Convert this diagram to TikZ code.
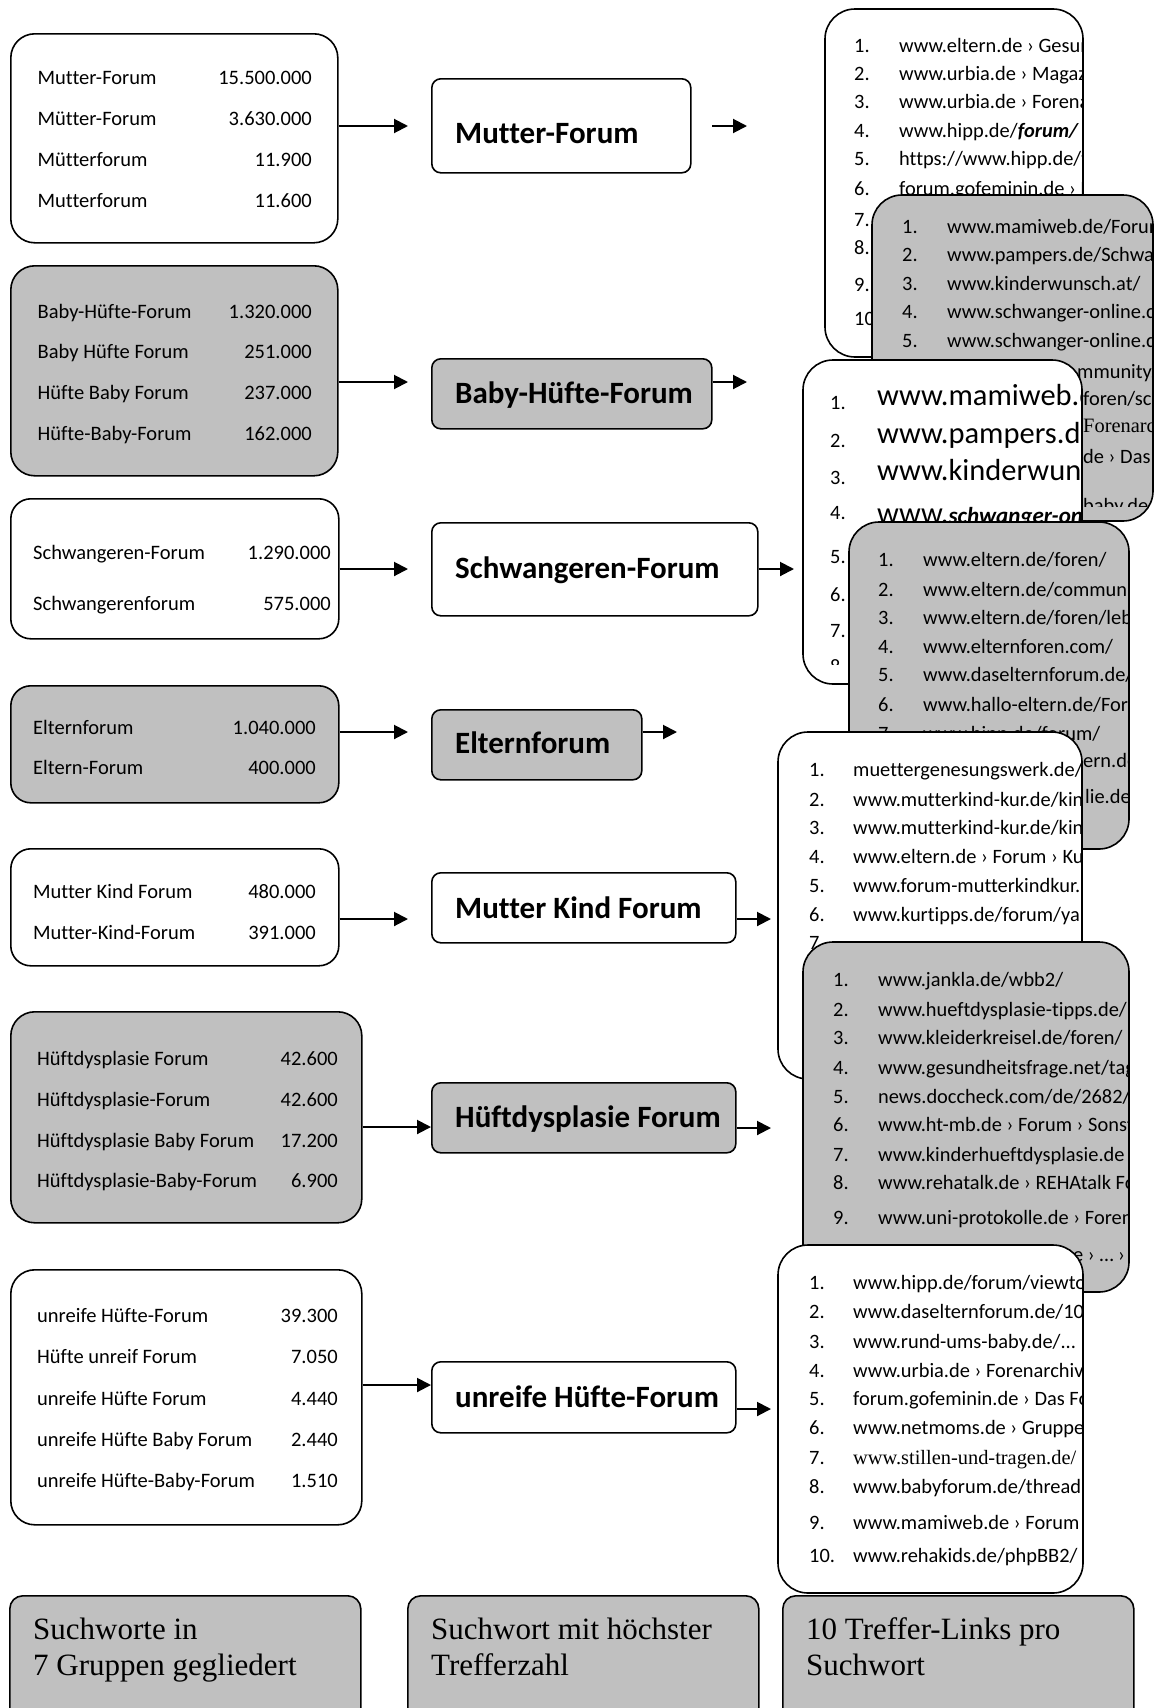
\documentclass[tikz,border=0pt]{standalone}
\usepackage{fontspec}
\setmainfont{Carlito}[Ligatures=NoCommon]
\newfontfamily\timesfont{Liberation Serif}
\usetikzlibrary{arrows.meta}
\definecolor{boxgray}{RGB}{192,192,192}
% row of a result card: name, numx, textx, baseline, number, text
\newcommand\crow[6]{\node[rowtxt] (#1n) at (#2,#4) {#5};\node[rowtxt] (#1t) at (#3,#4) {#6};}
% row of a keyword box: name, namex, numx, baseline, keyword, count
\newcommand\lrow[6]{\node[lefttxt] (#1a) at (#2,#4) {#5};\node[leftnum] (#1b) at (#3,#4) {#6};}
% card: x1 y1 x2 y2 fill content
\newcommand\drawcard[6]{%
  \fill[#5, rounded corners=30pt] (#1,#2) rectangle (#3,#4);
  \begin{scope}
    \clip[rounded corners=30pt] (#1,#2) rectangle (#3,#4);
    #6
  \end{scope}
  \draw[line width=1.6pt, rounded corners=30pt] (#1,#2) rectangle (#3,#4);
}
\begin{document}
\begin{tikzpicture}[x=1pt,y=-1pt,
  lbox/.style={draw, line width=1.6pt, rounded corners=24pt, inner sep=0pt, anchor=north west},
  mbox/.style={draw, line width=1.6pt, rounded corners=9pt, inner sep=0pt, anchor=north west},
  labbox/.style={draw, line width=1.6pt, rounded corners=13pt, inner sep=0pt, anchor=north west, fill=boxgray},
  lefttxt/.style={font=\fontsize{20.5}{24}\selectfont, inner sep=0pt, anchor=base west},
  leftnum/.style={lefttxt, anchor=base east},
  midtxt/.style={font=\fontsize{31}{36}\selectfont\bfseries, inner sep=0pt, anchor=base west},
  rowtxt/.style={font=\fontsize{20.4}{24}\selectfont, inner sep=0pt, anchor=base west},
  bigtxt/.style={font=\fontsize{30.5}{36}\selectfont, inner sep=0pt, anchor=base west},
  labtxt/.style={font=\timesfont\fontsize{31}{36}\selectfont, inner sep=0pt, anchor=base west},
  arr/.style={line width=2pt, -{Triangle[length=14pt,width=14pt]}}
]
\useasboundingbox (0,0) rectangle (1155,1708);
\clip (0,0) rectangle (1155,1708);

% ---------- keyword boxes ----------
\node[lbox, fill=white,   minimum width=327, minimum height=209] (B1) at (10,33) {};
\node[lbox, fill=boxgray, minimum width=327, minimum height=210] (B2) at (10,265) {};
\node[lbox, fill=white,   minimum width=328, minimum height=140, rounded corners=20pt] (B3) at (10,498) {};
\node[lbox, fill=boxgray, minimum width=328, minimum height=117, rounded corners=20pt] (B4) at (10,685) {};
\node[lbox, fill=white,   minimum width=328, minimum height=117, rounded corners=20pt] (B5) at (10,848) {};
\node[lbox, fill=boxgray, minimum width=351, minimum height=211] (B6) at (10,1011) {};
\node[lbox, fill=white,   minimum width=351, minimum height=255] (B7) at (10,1269) {};

\lrow{b1r1}{37.5}{312}{84.5}{Mutter-Forum}{15.500.000}
\lrow{b1r2}{37.5}{312}{125.5}{Mütter-Forum}{3.630.000}
\lrow{b1r3}{37.5}{312}{166.5}{Mütterforum}{11.900}
\lrow{b1r4}{37.5}{312}{207.5}{Mutterforum}{11.600}

\lrow{b2r1}{37.5}{312}{318.5}{Baby-Hüfte-Forum}{1.320.000}
\lrow{b2r2}{37.5}{312}{358.5}{Baby Hüfte Forum}{251.000}
\lrow{b2r3}{37.5}{312}{399.5}{Hüfte Baby Forum}{237.000}
\lrow{b2r4}{37.5}{312}{440.5}{Hüfte-Baby-Forum}{162.000}

\lrow{b3r1}{33}{331}{559.5}{Schwangeren-Forum}{1.290.000}
\lrow{b3r2}{33}{331}{610.5}{Schwangerenforum}{575.000}

\lrow{b4r1}{33}{316}{734.5}{Elternforum}{1.040.000}
\lrow{b4r2}{33}{316}{774.5}{Eltern-Forum}{400.000}

\lrow{b5r1}{33}{316}{898.5}{Mutter Kind Forum}{480.000}
\lrow{b5r2}{33}{316}{939.5}{Mutter-Kind-Forum}{391.000}

\lrow{b6r1}{37}{338}{1065.5}{Hüftdysplasie Forum}{42.600}
\lrow{b6r2}{37}{338}{1106.5}{Hüftdysplasie-Forum}{42.600}
\lrow{b6r3}{37}{338}{1147.5}{Hüftdysplasie Baby Forum}{17.200}
\lrow{b6r4}{37}{338}{1187.5}{Hüftdysplasie-Baby-Forum}{6.900}

\lrow{b7r1}{37}{338}{1322.5}{unreife Hüfte-Forum}{39.300}
\lrow{b7r2}{37}{338}{1363.5}{Hüfte unreif Forum}{7.050}
\lrow{b7r3}{37}{338}{1405.5}{unreife Hüfte Forum}{4.440}
\lrow{b7r4}{37}{338}{1446.5}{unreife Hüfte Baby Forum}{2.440}
\lrow{b7r5}{37}{338}{1487.5}{unreife Hüfte-Baby-Forum}{1.510}

% ---------- top keyword boxes ----------
\node[mbox, fill=white,   minimum width=259, minimum height=94] (M1) at (431,78) {};
\node[mbox, fill=boxgray, minimum width=280, minimum height=70] (M2) at (431,358) {};
\node[mbox, fill=white,   minimum width=326, minimum height=93] (M3) at (431,522) {};
\node[mbox, fill=boxgray, minimum width=210, minimum height=70] (M4) at (431,709) {};
\node[mbox, fill=white,   minimum width=304, minimum height=70] (M5) at (431,872) {};
\node[mbox, fill=boxgray, minimum width=304, minimum height=70] (M6) at (431,1082) {};
\node[mbox, fill=white,   minimum width=304, minimum height=71] (M7) at (431,1361) {};

\node[midtxt] (M1t) at (455,143) {Mutter-Forum};
\node[midtxt] (M2t) at (455,403) {Baby-Hüfte-Forum};
\node[midtxt] (M3t) at (455,578) {Schwangeren-Forum};
\node[midtxt] (M4t) at (455,753) {Elternforum};
\node[midtxt] (M5t) at (455,918) {Mutter Kind Forum};
\node[midtxt] (M6t) at (455,1127) {Hüftdysplasie Forum};
\node[midtxt] (M7t) at (455,1407) {unreife Hüfte-Forum};

% ---------- arrows ----------
\coordinate (a1) at (408,126);
\coordinate (a2) at (408,382);
\coordinate (a3) at (408,569);
\coordinate (a4) at (408,732);
\coordinate (a5) at (408,919);
\coordinate (a6) at (431,1127);
\coordinate (a7) at (431,1385);
\draw[arr] (B1.east |- a1) -- (a1);
\draw[arr] (B2.east |- a2) -- (a2);
\draw[arr] (B3.east |- a3) -- (a3);
\draw[arr] (B4.east |- a4) -- (a4);
\draw[arr] (B5.east |- a5) -- (a5);
\draw[arr] (B6.east |- a6) -- (M6.west |- a6);
\draw[arr] (B7.east |- a7) -- (M7.west |- a7);

\coordinate (r1s) at (712,126);  \coordinate (r1) at (747,126);
\coordinate (r2) at (747,382);
\coordinate (r3) at (794,569);
\coordinate (r4) at (677,732);
\coordinate (r5) at (771,919);
\coordinate (r6) at (771,1128);
\coordinate (r7) at (771,1409);
\draw[arr] (r1s) -- (r1);
\draw[arr] (M2.east |- r2) -- (r2);
\draw[arr] (M3.east |- r3) -- (r3);
\draw[arr] (M4.east |- r4) -- (r4);
\draw[arr] (M5.east |- r5) -- (r5);
\draw[arr] (M6.east |- r6) -- (r6);
\draw[arr] (M7.east |- r7) -- (r7);

% ---------- result cards ----------
\drawcard{825}{9}{1083}{357}{white}{
  \crow{c1r1}{854}{899}{52}{1.}{www.eltern.de › Gesundheit}
  \crow{c1r2}{854}{899}{80.5}{2.}{www.urbia.de › Magazin}
  \crow{c1r3}{854}{899}{108}{3.}{www.urbia.de › Forenarchiv}
  \crow{c1r4}{854}{899}{137}{4.}{www.hipp.de/\textbf{\textit{forum/}}}
  \crow{c1r5}{854}{899}{165.5}{5.}{https://www.hipp.de/forum}
  \crow{c1r6}{854}{899}{195}{6.}{forum.gofeminin.de › Das Forum}
  \node[rowtxt] (c1r7n) at (854,226) {7.};
  \node[rowtxt] (c1r8n) at (854,254.5) {8.};
  \node[rowtxt] (c1r9n) at (854,291) {9.};
  \node[rowtxt] (c1r10n) at (854,325.5) {10.};
}

\drawcard{872}{195}{1153}{521}{boxgray}{
  \crow{c2r1}{902}{947}{233}{1.}{www.mamiweb.de/Forum}
  \crow{c2r2}{902}{947}{261.5}{2.}{www.pampers.de/Schwangerschaft}
  \crow{c2r3}{902}{947}{290}{3.}{www.kinderwunsch.at/}
  \crow{c2r4}{902}{947}{318.5}{4.}{www.schwanger-online.de}
  \crow{c2r5}{902}{947}{347}{5.}{www.schwanger-online.de}
  \node[rowtxt] (c2r6) at (1077,378) {mmunity.de};
  \node[rowtxt] (c2r7) at (1083,405) {foren/schwanger};
  \node[rowtxt] (c2r8) at (1083,432) {\timesfont Forenarchiv};
  \node[rowtxt] (c2r9) at (1083,463) {de › Das Forum};
  \begin{scope}
    \clip (0,0) rectangle (2000,506);
    \node[rowtxt] (c2r10) at (1083,512) {baby.de};
  \end{scope}
}

\drawcard{803}{360}{1082}{684}{white}{
  \clip (0,0) rectangle (2000,664);
  \node[rowtxt] (c3r1n) at (830,409) {1.};
  \node[rowtxt] (c3r2n) at (830,447) {2.};
  \node[rowtxt] (c3r3n) at (830,484) {3.};
  \node[rowtxt] (c3r4n) at (830,519) {4.};
  \node[rowtxt] (c3r5n) at (830,563) {5.};
  \node[rowtxt] (c3r6n) at (830,601) {6.};
  \node[rowtxt] (c3r7n) at (830,637) {7.};
  \node[rowtxt] (c3r8n) at (830,673) {8.};
  \node[bigtxt] (c3r1t) at (877,405) {www.mamiweb.de/Forum};
  \node[bigtxt] (c3r2t) at (877,443) {www.pampers.de/Schwangerschaft};
  \node[bigtxt] (c3r3t) at (877,480) {www.kinderwunsch.at/};
  \node[bigtxt] (c3r4t) at (877,523) {www.{\fontsize{23}{28}\selectfont\bfseries\itshape schwanger-online}};
}

\drawcard{849}{522}{1129}{849}{boxgray}{
  \crow{c4r1}{878}{923}{566.5}{1.}{www.eltern.de/foren/}
  \crow{c4r2}{878}{923}{596.5}{2.}{www.eltern.de/community}
  \crow{c4r3}{878}{923}{624.5}{3.}{www.eltern.de/foren/leben}
  \crow{c4r4}{878}{923}{653.5}{4.}{www.elternforen.com/}
  \crow{c4r5}{878}{923}{681.5}{5.}{www.daselternforum.de/}
  \crow{c4r6}{878}{923}{711.5}{6.}{www.hallo-eltern.de/Forum}
  \crow{c4r7}{878}{923}{740}{7.}{www.hipp.de/forum/}
  \node[rowtxt] (c4r8) at (1083,767) {ern.de};
  \node[rowtxt] (c4r9) at (1085,803) {lie.de};
}

\drawcard{778}{732}{1082}{1079}{white}{
  \crow{c5r1}{809}{853}{776.5}{1.}{muettergenesungswerk.de/}
  \crow{c5r2}{809}{853}{806.5}{2.}{www.mutterkind-kur.de/kinder}
  \crow{c5r3}{809}{853}{834.5}{3.}{www.mutterkind-kur.de/kinder}
  \crow{c5r4}{809}{853}{863.5}{4.}{www.eltern.de › Forum › Kur}
  \crow{c5r5}{809}{853}{892.5}{5.}{www.forum-mutterkindkur.de}
  \crow{c5r6}{809}{853}{921.5}{6.}{www.kurtipps.de/forum/yabb}
  \node[rowtxt] (c5r7n) at (809,949.5) {7.};
}

\drawcard{803}{942}{1129}{1292}{boxgray}{
  \crow{c6r1}{833}{878}{986.5}{1.}{www.jankla.de/wbb2/}
  \crow{c6r2}{833}{878}{1016.5}{2.}{www.hueftdysplasie-tipps.de/}
  \crow{c6r3}{833}{878}{1044.5}{3.}{www.kleiderkreisel.de/foren/}
  \crow{c6r4}{833}{878}{1074.5}{4.}{www.gesundheitsfrage.net/tag}
  \crow{c6r5}{833}{878}{1103.5}{5.}{news.doccheck.com/de/2682/}
  \crow{c6r6}{833}{878}{1131.5}{6.}{www.ht-mb.de › Forum › Sonstiges}
  \crow{c6r7}{833}{878}{1161.5}{7.}{www.kinderhueftdysplasie.de}
  \crow{c6r8}{833}{878}{1189.5}{8.}{www.rehatalk.de › REHAtalk Forum}
  \crow{c6r9}{833}{878}{1224.5}{9.}{www.uni-protokolle.de › Foren}
  \node[rowtxt] (c6r10) at (1073,1261.5) {e › … › Forum};
}

\drawcard{778}{1245}{1083}{1593}{white}{
  \crow{c7r1}{809}{853}{1289.5}{1.}{www.hipp.de/forum/viewtopic}
  \crow{c7r2}{809}{853}{1318.5}{2.}{www.daselternforum.de/10}
  \crow{c7r3}{809}{853}{1348.5}{3.}{www.rund-ums-baby.de/...}
  \crow{c7r4}{809}{853}{1377.5}{4.}{www.urbia.de › Forenarchiv}
  \crow{c7r5}{809}{853}{1405.5}{5.}{forum.gofeminin.de › Das Forum}
  \crow{c7r6}{809}{853}{1434.5}{6.}{www.netmoms.de › Gruppen}
  \crow{c7r7}{809}{853}{1464.5}{7.}{{\timesfont www.stillen-und-tragen.de/}}
  \crow{c7r8}{809}{853}{1493.5}{8.}{www.babyforum.de/thread}
  \crow{c7r9}{809}{853}{1529.5}{9.}{www.mamiweb.de › Forum}
  \crow{c7r10}{809}{853}{1562.5}{10.}{www.rehakids.de/phpBB2/}
}

% ---------- legend boxes ----------
\node[labbox, minimum width=351, minimum height=135] (L1) at (9,1595) {};
\node[labbox, minimum width=351, minimum height=135] (L2) at (407,1595) {};
\node[labbox, minimum width=351, minimum height=135] (L3) at (782,1595) {};
\node[labtxt] (L1a) at (33,1639) {Suchworte in};
\node[labtxt] (L1b) at (33,1675) {7 Gruppen gegliedert};
\node[labtxt] (L2a) at (431,1639) {Suchwort mit höchster};
\node[labtxt] (L2b) at (431,1675) {Trefferzahl};
\node[labtxt] (L3a) at (806,1639) {10 Treffer-Links pro};
\node[labtxt] (L3b) at (806,1675) {Suchwort};
\end{tikzpicture}
\end{document}
